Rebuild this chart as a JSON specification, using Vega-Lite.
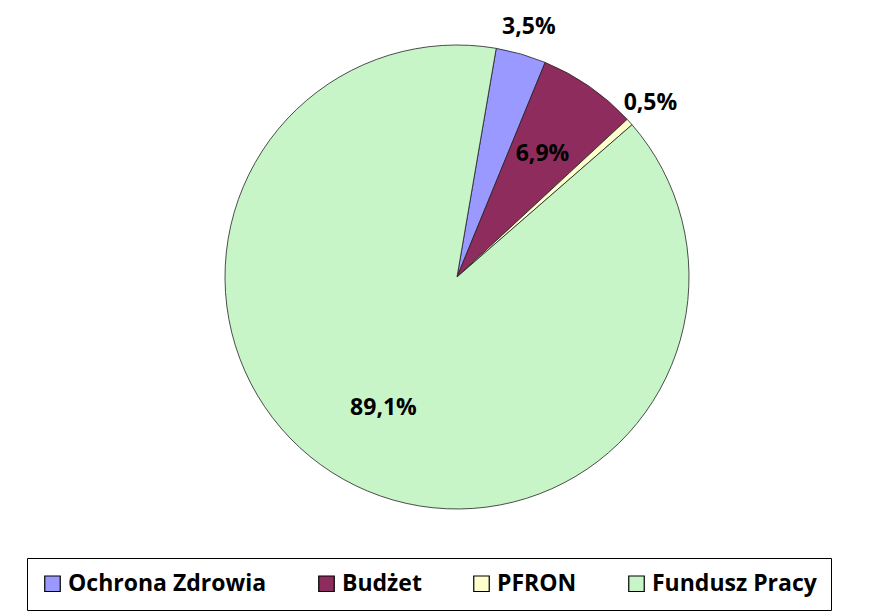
{
  "$schema": "https://vega.github.io/schema/vega-lite/v6.json",
  "width": 892,
  "height": 611,
  "autosize": {"type": "fit", "contains": "padding"},
  "padding": {"left": 27, "right": 5, "top": 14, "bottom": 0},
  "background": "white",
  "data": {
    "values": [
      {"kategoria": "Ochrona Zdrowia", "udzial": 3.5, "etykieta": "3,5%", "poz": "out"},
      {"kategoria": "Budżet", "udzial": 6.9, "etykieta": "6,9%", "poz": "in"},
      {"kategoria": "PFRON", "udzial": 0.5, "etykieta": "0,5%", "poz": "out"},
      {"kategoria": "Fundusz Pracy", "udzial": 89.1, "etykieta": "89,1%", "poz": "in"}
    ]
  },
  "encoding": {
    "theta": {"field": "udzial", "type": "quantitative", "stack": true, "scale": {"range": [0.17, 6.453]}},
    "order": {"field": "ord", "type": "quantitative"},
    "color": {
      "field": "kategoria",
      "type": "nominal",
      "sort": ["Ochrona Zdrowia", "Budżet", "PFRON", "Fundusz Pracy"],
      "scale": {
        "domain": ["Ochrona Zdrowia", "Budżet", "PFRON", "Fundusz Pracy"],
        "range": ["#9999FF", "#8E2C5E", "#FFFFCC", "#C8F5C8"]
      },
      "legend": {
        "title": null,
        "orient": "bottom",
        "direction": "horizontal",
        "strokeColor": "black",
        "padding": 14,
        "symbolType": "square",
        "symbolSize": 240,
        "symbolStrokeColor": "black",
        "symbolStrokeWidth": 1.2,
        "labelFont": "Open Sans",
        "labelFontSize": 23,
        "labelFontWeight": "bold",
        "labelColor": "black",
        "columnPadding": 48,
        "labelOffset": 4,
        "labelLimit": 300
      }
    }
  },
  "transform": [
    {"window": [{"op": "row_number", "as": "ord"}]}
  ],
  "layer": [
    {
      "mark": {"type": "arc", "outerRadius": 232, "stroke": "#222222", "strokeWidth": 0.8}
    },
    {
      "mark": {"type": "text", "radius": 150, "font": "Open Sans", "fontSize": 23, "fontWeight": "bold"},
      "encoding": {
        "text": {"condition": {"test": "datum.poz == 'in'", "field": "etykieta"}, "value": ""},
        "color": {"value": "black"}
      }
    },
    {
      "mark": {"type": "text", "radius": 260, "font": "Open Sans", "fontSize": 23, "fontWeight": "bold"},
      "encoding": {
        "text": {"condition": {"test": "datum.poz == 'out'", "field": "etykieta"}, "value": ""},
        "color": {"value": "black"}
      }
    }
  ],
  "config": {"view": {"stroke": null}}
}
